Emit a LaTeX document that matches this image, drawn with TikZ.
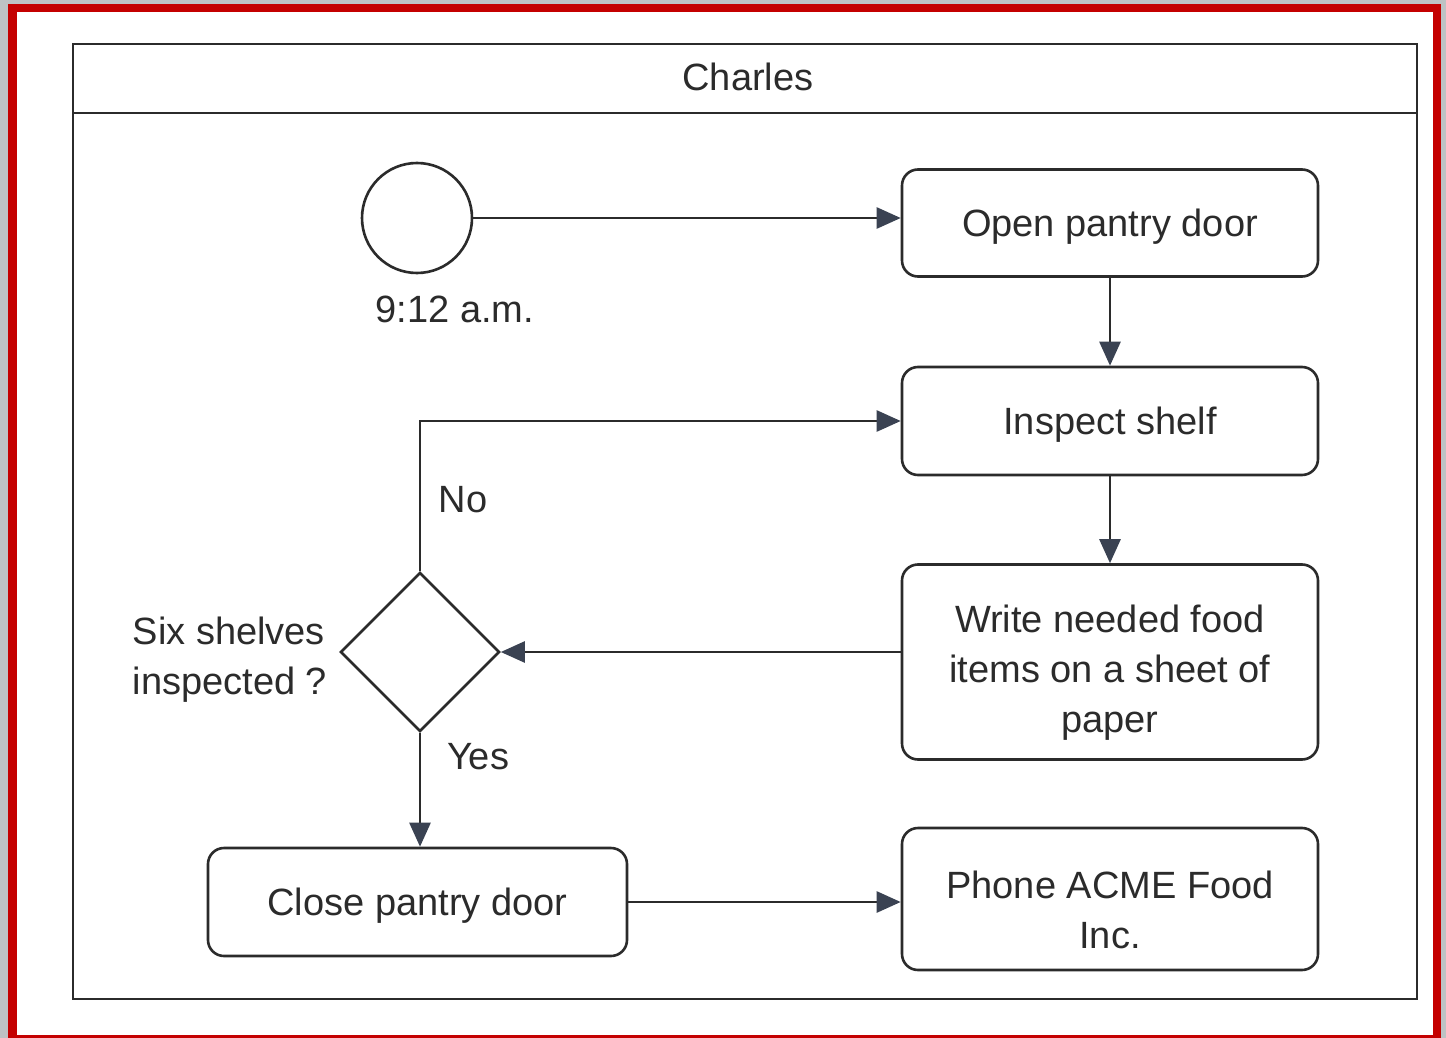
\documentclass[tikz,border=0pt]{standalone}
\usepackage{fontspec}
\setmainfont{Liberation Sans}
\usetikzlibrary{arrows.meta,shapes.geometric}
\definecolor{framered}{HTML}{C40000}
\definecolor{outergray}{HTML}{BEC2C4}
\definecolor{ink}{HTML}{2B2B2B}
\definecolor{tipcol}{HTML}{3A4252}
\begin{document}
\begin{tikzpicture}[x=1pt,y=-1pt,
  every node/.style={text=ink, font=\fontsize{38}{50}\selectfont},
  lane/.style={draw=ink, line width=2.6pt},
  act/.style={draw=ink, line width=2.6pt, rounded corners=16pt, inner sep=0pt, align=center},
  oneline/.style={text height=27pt, text depth=0pt},
  flow/.style={draw=ink, line width=2.6pt, -{Triangle[length=24pt,width=21pt,color=tipcol]}}]
\useasboundingbox (0,0) rectangle (1446,1038);
% page frame
\fill[outergray] (0,0) rectangle (1446,1038);
\fill[framered] (8,4) rectangle (1441,1038);
\fill[white] (17,12) rectangle (1433,1035);
% swimlane with header
\draw[lane] (73,44) rectangle (1417,999);
\draw[lane] (73,113) -- (1417,113);
\node (lanetitle) at (748,77) {Charles};
% start state
\node[draw=ink, line width=2.6pt, circle, minimum size=110pt, inner sep=0pt] (start) at (417,218) {};
\node (time) at (455,309) {9:12 a.m.};
% activities (multi-line boxes are set on their last baseline)
\node[act, oneline, minimum width=416pt, minimum height=107pt] (open) at (1110,223) {Open pantry door};
\node[act, oneline, minimum width=416pt, minimum height=108pt] (inspect) at (1110,421) {Inspect shelf};
\node[act, text height=140pt, text depth=0pt, minimum width=416pt, minimum height=195pt] (write) at (1110,662) {Write needed food\\items on a sheet of\\paper};
\node[act, text height=98pt, text depth=0pt, minimum width=416pt, minimum height=142pt] (phone) at (1110,899) {Phone ACME Food\\Inc.};
\node[act, oneline, minimum width=419pt, minimum height=108pt] (close) at (417.5,902) {Close pantry door};
% decision
\node[draw=ink, line width=2.6pt, diamond, minimum width=159pt, minimum height=159pt, inner sep=0pt] (dec) at (420,652) {};
\node[align=left] (question) at (230,660) {Six shelves\\inspected ?};
\node (no) at (463,500) {No};
\node (yes) at (478,757) {Yes};
% connectors
\draw[flow] (start.east) -- (start.east -| open.west);
\draw[flow] (open.south) -- (inspect.north);
\draw[flow] (inspect.south) -- (write.north);
\draw[flow] (write.west |- dec.east) -- (dec.east);
\draw[flow] (dec.north) |- (inspect.west);
\draw[flow] (dec.south) -- (dec.south |- close.north);
\draw[flow] (close.east) -- (close.east -| phone.west);
\end{tikzpicture}
\end{document}
